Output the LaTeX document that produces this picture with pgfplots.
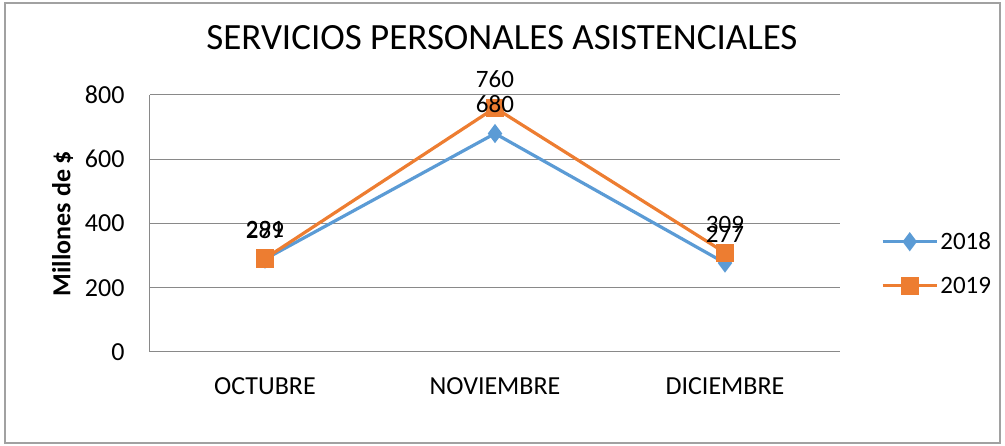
\documentclass[border=0pt]{standalone}
\usepackage{fontspec}
\setmainfont{Carlito}
\usepackage{pgfplots}
\pgfplotsset{compat=1.18}
\definecolor{c2018}{HTML}{5B9BD5}
\definecolor{c2019}{HTML}{ED7D31}
\definecolor{gridc}{HTML}{898989}
\begin{document}
\begin{tikzpicture}[x=1pt,y=1pt]
\path[use as bounding box] (0,0) rectangle (1005,446);
\draw[gridc!80,line width=1.2pt] (5,3) rectangle (1000,443);
\node[font=\fontsize{37}{42}\selectfont] at (502,408) {SERVICIOS PERSONALES ASISTENCIALES};
\begin{axis}[
  at={(150pt,94pt)}, anchor=south west,
  scale only axis, width=690pt, height=257pt,
  xmin=-0.5, xmax=2.5, ymin=0, ymax=800,
  xtick={0,1,2}, xticklabels={OCTUBRE,NOVIEMBRE,DICIEMBRE},
  ytick={0,200,400,600,800},
  /pgf/number format/assume math mode=true,
  ymajorgrids, grid style={gridc,line width=1pt},
  axis x line*=bottom, axis y line*=left,
  axis line style={gridc,line width=1pt,-},
  major tick length=0pt,
  ticklabel style={font=\fontsize{26}{30}\selectfont},
  xticklabel style={yshift=-22pt},
  yticklabel style={xshift=-22pt},
  ylabel={\textbf{Millones de \$}},
  ylabel style={font=\fontsize{26}{30}\selectfont, yshift=5pt},
  legend style={at={(1.055,0.344)}, anchor=west, draw=none, fill=none,
    font=\fontsize{25}{29}\selectfont, row sep=22pt},
  legend cell align=left,
  legend image code/.code={%
    \draw[mark repeat=2,mark phase=2] plot coordinates {(0pt,0pt) (27pt,0pt) (54pt,0pt)};},
  lbl/.style={draw=none, mark=none, forget plot, nodes near coords,
    every node near coord/.append style={font=\fontsize{25}{29}\selectfont, color=black, anchor=south, yshift=17pt}},
]
\addplot[c2018, line width=3.2pt, mark=diamond*, mark size=7pt, mark options={solid}] coordinates {(0,289) (1,680) (2,277)};
\addlegendentry{2018}
\addplot[c2019, line width=3.2pt, mark=square*, mark size=7.5pt, mark options={solid}] coordinates {(0,291) (1,760) (2,309)};
\addlegendentry{2019}
\addplot[lbl] coordinates {(0,289) (1,680) (2,277)};
\addplot[lbl] coordinates {(0,291) (1,760) (2,309)};
\end{axis}
\end{tikzpicture}
\end{document}
